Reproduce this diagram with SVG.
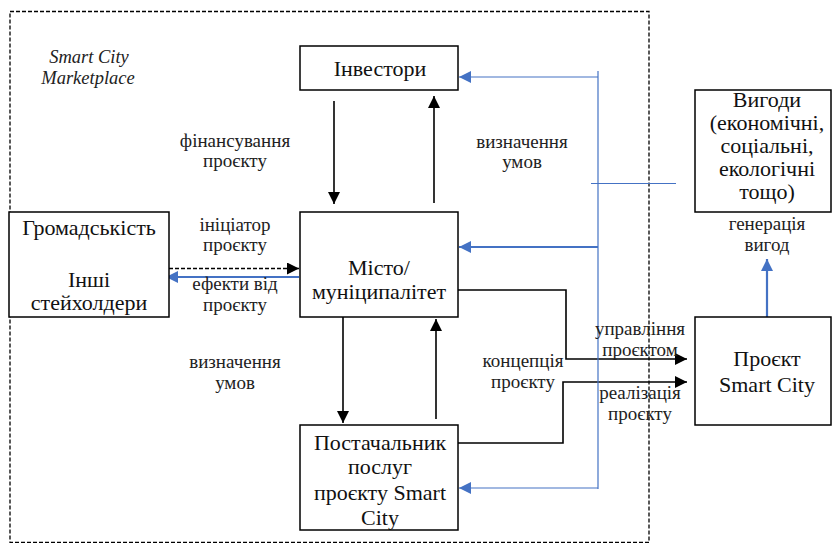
<svg xmlns="http://www.w3.org/2000/svg" width="832" height="543" viewBox="0 0 832 543">
<defs>
<style>
.box{fill:#fff;stroke:#000;stroke-width:1.5}
.nt{font-family:'Liberation Serif','Times New Roman','DejaVu Serif',serif;font-size:22px;fill:#111;text-anchor:middle}
.lt{font-family:'Liberation Serif','Times New Roman','DejaVu Serif',serif;font-size:19px;fill:#222;text-anchor:middle}
.it{font-family:'Liberation Serif','Times New Roman','DejaVu Serif',serif;font-size:18.5px;font-style:italic;fill:#222;text-anchor:middle}
.blk{fill:none;stroke:#000;stroke-width:1.6}
.blu{fill:none;stroke:#4472C4;stroke-width:1.2}
.blu2{fill:none;stroke:#4472C4;stroke-width:2.2}
</style>
<marker id="abk" viewBox="0 0 10 10" refX="10" refY="5" markerWidth="12" markerHeight="12" markerUnits="userSpaceOnUse" orient="auto"><path d="M0,0 L10,5 L0,10 z" fill="#000"/></marker>
<marker id="abl" viewBox="0 0 10 10" refX="10" refY="5" markerWidth="12" markerHeight="12" markerUnits="userSpaceOnUse" orient="auto"><path d="M0,0 L10,5 L0,10 z" fill="#4472C4"/></marker>
</defs>
<rect width="832" height="543" fill="#fff"/>
<g id="marketplace">
<rect x="10" y="11.5" width="639" height="531" fill="none" stroke="#000" stroke-width="1.3" stroke-dasharray="4 2"/>
<text class="it" x="89" y="63">Smart City</text>
<text class="it" x="88" y="84">Marketplace</text>
</g>
<g id="connectors">
<line class="blk" x1="334" y1="101" x2="334" y2="204" marker-end="url(#abk)"/>
<line class="blk" x1="434" y1="203" x2="434" y2="96" marker-end="url(#abk)"/>
<line class="blk" x1="343" y1="317" x2="343" y2="423" marker-end="url(#abk)"/>
<line class="blk" x1="436" y1="419" x2="436" y2="319" marker-end="url(#abk)"/>
<line class="blk" x1="169" y1="268.5" x2="299" y2="268.5" stroke-dasharray="4 2" marker-end="url(#abk)"/>
<line class="blu2" x1="299" y1="277" x2="166" y2="277" marker-end="url(#abl)"/>
<polyline class="blk" points="458,290 566,290 566,359 687,359" marker-end="url(#abk)"/>
<polyline class="blk" points="458,443 563,443 563,382 687,382" marker-end="url(#abk)"/>
<line class="blu" x1="598" y1="71" x2="598" y2="489"/>
<line class="blu" x1="598" y1="77" x2="459" y2="77" stroke-width="1.6" marker-end="url(#abl)"/>
<line class="blu2" x1="598" y1="247" x2="459" y2="247" marker-end="url(#abl)"/>
<line class="blu" x1="598" y1="488" x2="459" y2="488" stroke-width="1.6" marker-end="url(#abl)"/>
<line class="blu" x1="591" y1="183.5" x2="676" y2="183.5"/>
<line class="blu2" x1="767" y1="345" x2="767" y2="259" marker-end="url(#abl)"/>
<text class="lt" x="235" y="147">фінансування</text>
<text class="lt" x="235" y="167">проєкту</text>
<text class="lt" x="235" y="231">ініціатор</text>
<text class="lt" x="235" y="251">проєкту</text>
<text class="lt" x="235" y="290">ефекти від</text>
<text class="lt" x="235" y="311">проєкту</text>
<text class="lt" x="235" y="368">визначення</text>
<text class="lt" x="235" y="389">умов</text>
<text class="lt" x="522" y="148">визначення</text>
<text class="lt" x="522" y="168">умов</text>
<text class="lt" x="767" y="230">генерація</text>
<text class="lt" x="767" y="251">вигод</text>
<text class="lt" x="523" y="367">концепція</text>
<text class="lt" x="523" y="388">проєкту</text>
<text class="lt" x="640" y="335">управління</text>
<text class="lt" x="640" y="356">проєктом</text>
<text class="lt" x="640" y="399">реалізація</text>
<text class="lt" x="640" y="420">проєкту</text>
</g>
<g id="investors">
<rect class="box" x="300" y="46" width="158" height="44"/>
<text class="nt" x="380" y="76">Інвестори</text>
</g>
<g id="community">
<rect class="box" x="9" y="212" width="160" height="105"/>
<text class="nt" x="89" y="235">Громадськість</text>
<text class="nt" x="89" y="287">Інші</text>
<text class="nt" x="89" y="310">стейхолдери</text>
</g>
<g id="city">
<rect class="box" x="300" y="212" width="158" height="105"/>
<text class="nt" x="379" y="275">Місто/</text>
<text class="nt" x="379" y="299">муніципалітет</text>
</g>
<g id="provider">
<rect class="box" x="300" y="425" width="158" height="105"/>
<text class="nt" x="380" y="450">Постачальник</text>
<text class="nt" x="380" y="474">послуг</text>
<text class="nt" x="380" y="500">проєкту Smart</text>
<text class="nt" x="380" y="525">City</text>
</g>
<g id="benefits">
<rect class="box" x="695" y="90" width="136" height="122"/>
<text class="nt" x="767" y="107">Вигоди</text>
<text class="nt" x="767" y="130">(економічні,</text>
<text class="nt" x="767" y="153">соціальні,</text>
<text class="nt" x="767" y="176">екологічні</text>
<text class="nt" x="767" y="199">тощо)</text>
</g>
<g id="project">
<rect class="box" x="695" y="317" width="136" height="108"/>
<text class="nt" x="767" y="366">Проєкт</text>
<text class="nt" x="767" y="392">Smart City</text>
</g>
</svg>
